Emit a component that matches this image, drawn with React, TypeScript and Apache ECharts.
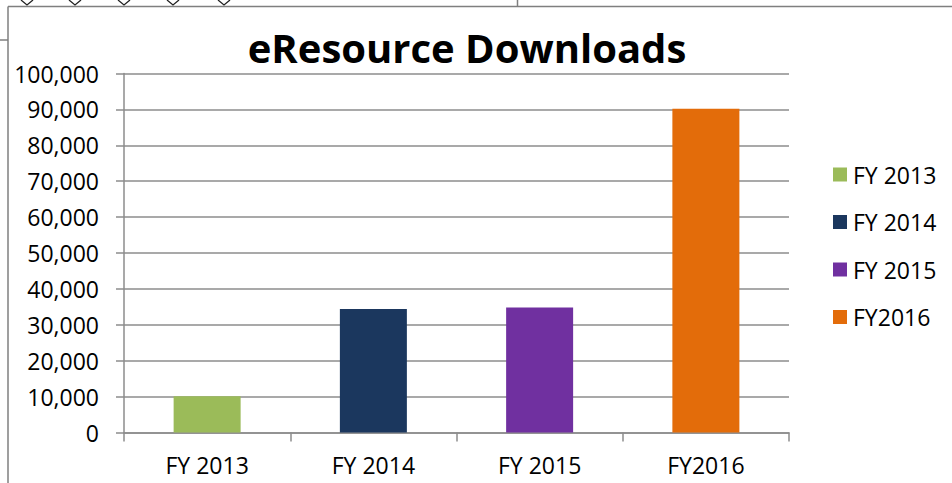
import React, { useEffect, useRef } from "react";
import * as echarts from "echarts";

const categories = ["FY 2013", "FY 2014", "FY 2015", "FY2016"];
const seriesNames = ["FY 2013", "FY 2014", "FY 2015", "FY2016"];
const downloads = [10100, 34400, 34800, 90200];
const barColors = ["#9BBB59", "#1B375E", "#7030A0", "#E36C0A"];
const titleText = "eResource Downloads";

const FONT = "'Open Sans', 'DejaVu Sans', sans-serif";
const AXIS_GRAY = "#8c8c8c";

export default function App() {
  const ref = useRef<HTMLDivElement>(null);

  useEffect(() => {
    if (!ref.current) return;
    const chart = echarts.init(ref.current, undefined, { renderer: "svg" });

    const diamondXs = [27, 75, 124, 173, 224];
    const diamonds = diamondXs.map((x) => ({
      type: "polyline",
      shape: { points: [[x - 6, 0], [x, 5], [x + 6, 0]] },
      style: { stroke: "#222", lineWidth: 1.3, fill: "none" },
      silent: true,
    }));

    chart.setOption({
      animation: false,
      backgroundColor: "#ffffff",
      textStyle: { fontFamily: FONT },
      grid: { left: 124, right: 163, top: 73.5, bottom: 50.5, containLabel: false },
      xAxis: {
        type: "category",
        data: categories,
        axisLine: { show: true, lineStyle: { color: AXIS_GRAY, width: 1.5 } },
        axisTick: { show: true, length: 9, lineStyle: { color: AXIS_GRAY, width: 1.5 } },
        axisLabel: { color: "#000", fontSize: 23, fontFamily: FONT, margin: 21 },
      },
      yAxis: {
        type: "value",
        min: 0,
        max: 100000,
        interval: 10000,
        axisLine: { show: true, lineStyle: { color: AXIS_GRAY, width: 1.5 } },
        axisTick: { show: true, length: 8, lineStyle: { color: AXIS_GRAY, width: 1.5 } },
        splitLine: { show: true, lineStyle: { color: AXIS_GRAY, width: 1.5 } },
        axisLabel: {
          color: "#000",
          fontSize: 23,
          fontFamily: FONT,
          margin: 25,
          formatter: (v: number) => v.toLocaleString("en-US"),
        },
      },
      legend: {
        orient: "vertical",
        left: 828,
        top: 158,
        itemWidth: 14,
        itemHeight: 14,
        itemGap: 24.5,
        icon: "rect",
        data: seriesNames,
        textStyle: { color: "#000", fontSize: 23, fontFamily: FONT, padding: [0, 0, 0, 1] },
      },
      series: seriesNames.map((name, i) => ({
        name,
        type: "bar",
        stack: "total",
        barWidth: 67,
        data: categories.map((_, j) => (j === i ? downloads[i] : "-")),
        itemStyle: { color: barColors[i] },
      })),
      graphic: [
        {
          type: "text",
          x: 467,
          y: 47,
          style: {
            text: titleText,
            fill: "#000",
            font: `bold 40px ${FONT}`,
            align: "center",
            verticalAlign: "middle",
          },
          silent: true,
        },
        {
          type: "line",
          shape: { x1: 8, y1: 6.5, x2: 952, y2: 6.5 },
          style: { stroke: "#7f7f7f", lineWidth: 1.5 },
          silent: true,
        },
        {
          type: "line",
          shape: { x1: 517.5, y1: 0, x2: 517.5, y2: 6.5 },
          style: { stroke: "#7f7f7f", lineWidth: 1.5 },
          silent: true,
        },
        {
          type: "line",
          shape: { x1: 8, y1: 6.5, x2: 8, y2: 483 },
          style: { stroke: "#7f7f7f", lineWidth: 1.5 },
          silent: true,
        },
        {
          type: "line",
          shape: { x1: 0, y1: 40, x2: 8, y2: 40 },
          style: { stroke: "#7f7f7f", lineWidth: 1.5 },
          silent: true,
        },
        ...diamonds,
      ],
    });

    return () => chart.dispose();
  }, []);

  return (
    <div
      ref={ref}
      style={{ position: "fixed", left: 0, top: 0, width: 952, height: 483 }}
    />
  );
}
